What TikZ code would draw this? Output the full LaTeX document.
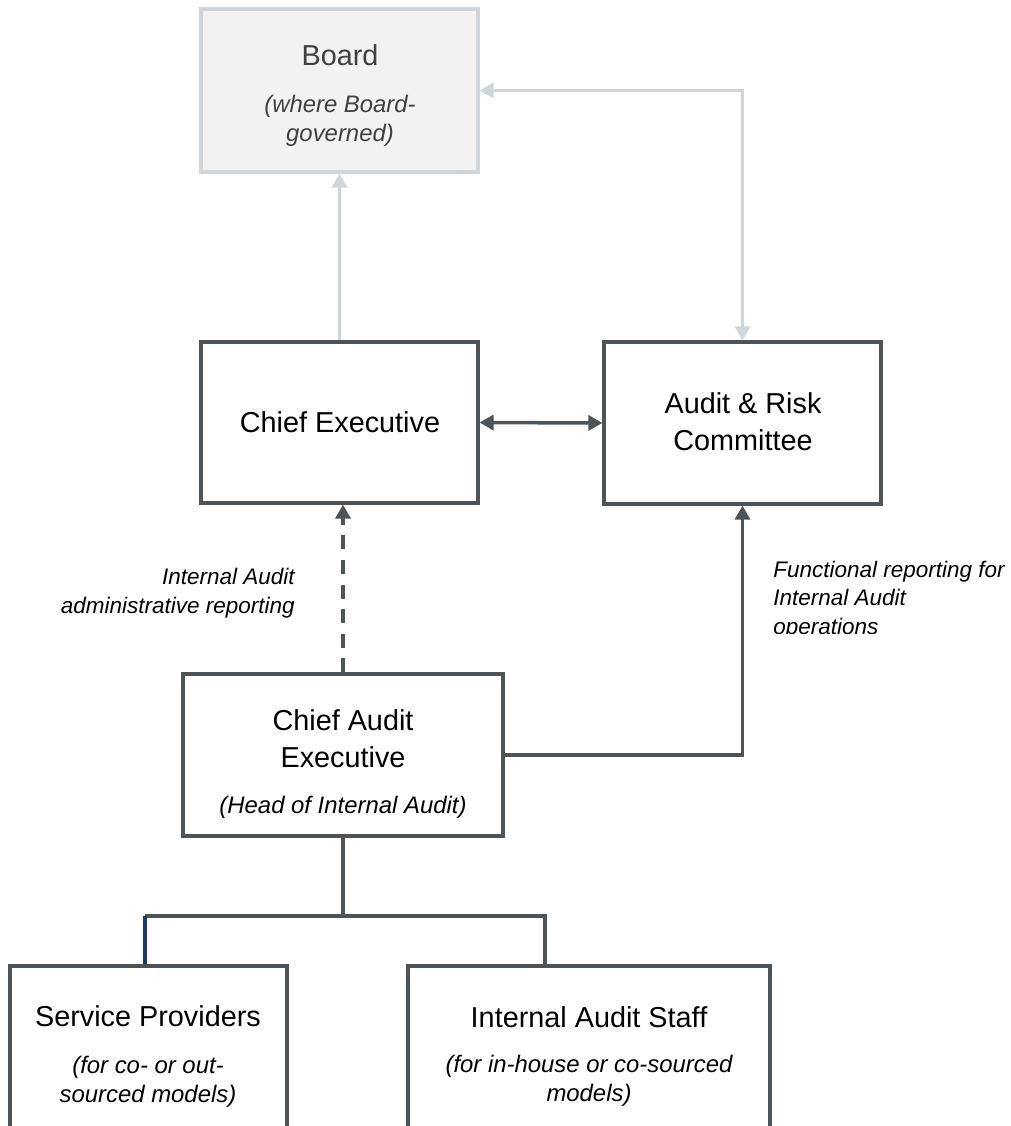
\documentclass[tikz,border=0pt]{standalone}
\usepackage{fontspec}
\setmainfont{Liberation Sans}
\usetikzlibrary{arrows.meta,positioning}
\definecolor{darkline}{RGB}{77,83,87}
\definecolor{lightline}{RGB}{208,213,217}
\definecolor{boardfill}{RGB}{242,242,242}
\definecolor{boardtext}{RGB}{64,64,64}
\definecolor{branchblue}{RGB}{31,56,110}

\begin{document}
\begin{tikzpicture}[x=0.02cm, y=-0.02cm,
    >={Triangle[length=8pt,width=8.5pt]},
    orgbox/.style={draw=darkline, line width=1.8pt, minimum width=5.54cm, minimum height=3.22cm, inner sep=0pt},
    boardbox/.style={orgbox, draw=lightline, fill=boardfill, minimum height=3.26cm},
    title/.style={font=\fontsize{16.4}{21}\selectfont, align=center, inner sep=0pt},
    subtitle/.style={font=\fontsize{13.6}{16.7}\selectfont\itshape, align=center, inner sep=0pt},
    linklabel/.style={font=\fontsize{12.8}{16.4}\selectfont\itshape, inner sep=0pt},
    darkarrow/.style={draw=darkline, line width=2pt},
    lightarrow/.style={draw=lightline, line width=2pt}]
    \useasboundingbox (0,0) rectangle (1011,1126);
    \clip (0,0) rectangle (1011,1126);

    % Boxes
    \node[boardbox] (board) at (339.5,90.5) {};
    \node[orgbox] (ce) at (339.5,422.5) {};
    \node[orgbox, minimum height=3.24cm] (arc) at (742.5,423) {};
    \node[orgbox, minimum width=6.4cm, minimum height=3.24cm] (cae) at (343,755) {};
    \node[orgbox, minimum height=4cm] (sp) at (148.5,1066) {};
    \node[orgbox, minimum width=7.24cm, minimum height=4cm] (ias) at (589,1066) {};

    % Box texts
    \node[title, text=boardtext] (boardtitle) at (340,55) {Board};
    \node[subtitle, text=boardtext] (boardsub) at (340,120.5) {(where Board-\\governed)};
    \node[title] (cetitle) at (340,422) {Chief Executive};
    \node[title] (arctitle) at (743,421.5) {Audit \& Risk\\Committee};
    \node[title] (caetitle) at (343,738.5) {Chief Audit\\Executive};
    \node[subtitle] (caesub) at (343,807) {(Head of Internal Audit)};
    \node[title] (sptitle) at (148,1016) {Service Providers};
    \node[subtitle] (spsub) at (148,1082) {(for co- or out-\\sourced models)};
    \node[title] (iastitle) at (589,1017) {Internal Audit Staff};
    \node[subtitle] (iassub) at (589,1081) {(for in-house or co-sourced\\models)};

    % Reporting lines to the Board
    \draw[lightarrow, ->] (ce.north) -- (board.south);
    \draw[lightarrow, <->] (board.east) -| (arc.north);

    % Reporting lines of the Chief Audit Executive
    \draw[darkarrow, <->] (ce.east) -- (arc.west);
    \draw[darkarrow, dash pattern=on 8pt off 6pt, ->] (cae.north) -- (cae.north |- ce.south);
    \draw[darkarrow, ->] (cae.east) -| (arc.south);

    % Link labels
    \node[linklabel, anchor=east, align=right] (adminlabel) at (295,593.5) {Internal Audit\\administrative reporting};
    \begin{scope}
        \clip (700,540) rectangle (1011,633);
        \node[linklabel, anchor=west, align=left] (funclabel) at (773,600) {Functional reporting for\\Internal Audit\\operations};
    \end{scope}

    % Resourcing tree
    \coordinate (jl) at (145,916);
    \coordinate (jr) at (545,916);
    \draw[darkarrow] (cae.south) -- (cae.south |- jl);
    \draw[darkarrow] (jl) -- (jr) -- (jr |- ias.north);
    \draw[darkarrow, draw=branchblue] (jl) -- (jl |- sp.north);
\end{tikzpicture}
\end{document}
